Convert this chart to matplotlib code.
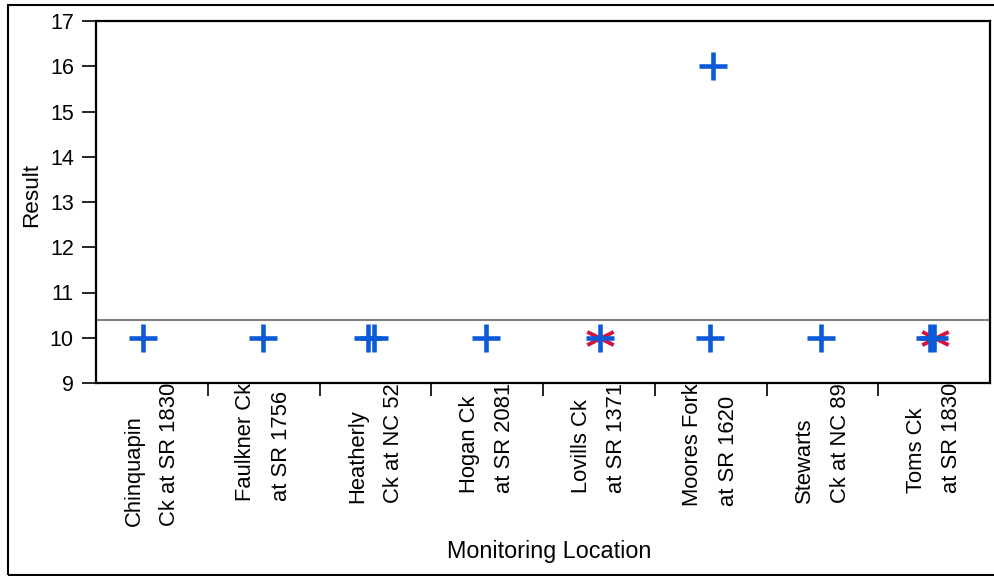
import matplotlib
matplotlib.use("Agg")
import matplotlib.pyplot as plt
from matplotlib.path import Path
from matplotlib.patches import Rectangle

plt.rcParams['font.family'] = ['Liberation Sans', 'DejaVu Sans']

# Monitoring locations (two-line labels)
sites = [
    "Chinquapin\nCk at SR 1830",
    "Faulkner Ck\nat SR 1756",
    "Heatherly\nCk at NC 52",
    "Hogan Ck\nat SR 2081",
    "Lovills Ck\nat SR 1371",
    "Moores Fork\nat SR 1620",
    "Stewarts\nCk at NC 89",
    "Toms Ck\nat SR 1830",
]

# Individual results: site index, measured value, horizontal jitter
obs_site = [0, 1, 2, 2, 3, 4, 5, 5, 6, 7, 7]
obs_value = [10, 10, 10, 10, 10, 10, 10, 16, 10, 10, 10]
obs_jitter = [-0.08, -0.01, -0.07, -0.01, -0.01, 0.01, -0.01, 0.02, -0.01, -0.04, 0.0]

# Flagged results
flag_site = [4, 7]
flag_value = [10, 10]
flag_jitter = [0.01, 0.01]

reference_level = 10.4
y_ticks = [9, 10, 11, 12, 13, 14, 15, 16, 17]

blue = "#0b5ad6"
red = "#d0163e"

fig = plt.figure(figsize=(9.94, 5.76), dpi=100)
ax = fig.add_axes([96 / 994, 1 - 383 / 576, 894 / 994, 362 / 576])

# flattened X marker
flat_x = Path([(-1, -0.5), (1, 0.5), (-1, 0.5), (1, -0.5)],
              [Path.MOVETO, Path.LINETO, Path.MOVETO, Path.LINETO])

ax.axhline(reference_level, color="#808080", lw=1.5, zorder=1)

fx = [s + j for s, j in zip(flag_site, flag_jitter)]
ax.plot(fx, flag_value, linestyle="none", marker=flat_x, markersize=19,
        markeredgewidth=2.8, color=red, zorder=2)

ox = [s + j for s, j in zip(obs_site, obs_jitter)]
ax.plot(ox, obs_value, linestyle="none", marker="+", markersize=19.5,
        markeredgewidth=3.3, color=blue, zorder=3)

ax.set_xlim(-0.5, len(sites) - 0.5)
ax.set_ylim(9, 17)
ax.set_yticks(y_ticks)
ax.tick_params(axis="y", direction="out", length=10, width=1.2, pad=6,
               labelsize=15.5)

# category labels at centers, ticks at the boundaries
ax.set_xticks(range(len(sites)))
ax.set_xticklabels(sites, rotation=90, fontsize=15.8, va="top", ha="center",
                   multialignment="left", linespacing=1.9)
ax.tick_params(axis="x", which="major", length=0, pad=0)
ax.set_xticks([i + 0.5 for i in range(len(sites) - 1)], minor=True)
ax.tick_params(axis="x", which="minor", direction="out", length=9, width=1.2)

for sp in ax.spines.values():
    sp.set_linewidth(1.6)

ax.set_ylabel("Result", fontsize=16.2)
ax.yaxis.set_label_coords(-0.0604, 0.519)
ax.set_xlabel("Monitoring Location", fontsize=16.8)
ax.xaxis.set_label_coords(0.507, -0.434)

# outer frame of the figure
fig.patches.append(Rectangle((8 / 994, 1 / 576), 1.2, 570 / 576,
                             transform=fig.transFigure, fill=False,
                             edgecolor="black", lw=1.5))

fig.savefig("out.png", dpi=100)
